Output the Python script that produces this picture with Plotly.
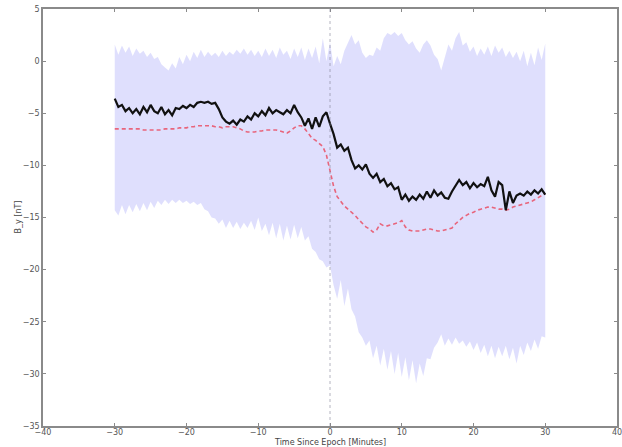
import plotly.graph_objects as go

time_min = [i * 0.5 - 30 for i in range(121)]

by_observed = [
    -3.6, -4.4, -4.2, -4.8, -4.5, -5.0, -4.6, -5.1, -4.4, -4.9,
    -4.2, -4.8, -5.0, -4.4, -5.1, -4.7, -5.2, -4.5, -4.6, -4.3,
    -4.5, -4.2, -4.4, -4.0, -3.9, -4.0, -3.9, -4.1, -4.0, -4.6,
    -5.4, -5.8, -6.0, -5.7, -6.1, -5.6, -5.8, -5.3, -5.6, -5.0,
    -5.3, -4.8, -5.2, -4.5, -5.0, -4.7, -4.9, -5.1, -4.7, -5.0,
    -4.2, -4.9, -5.4, -6.2, -5.5, -6.5, -5.4, -6.3, -5.3, -4.9,
    -6.0, -7.0, -8.3, -8.0, -8.6, -8.3, -9.5, -10.3, -10.0, -10.4,
    -9.9, -10.8, -11.2, -10.8, -11.6, -11.3, -12.0, -11.7, -12.3, -12.1,
    -13.3, -12.8, -13.4, -13.0, -13.3, -12.8, -13.2, -12.5, -13.1, -12.4,
    -12.9, -12.6, -13.1, -13.2, -12.5, -11.9, -11.4, -11.9, -11.6, -12.2,
    -11.7, -12.1, -11.8, -12.0, -11.1, -12.4, -13.0, -11.6, -11.9, -14.3,
    -12.5, -13.6, -12.9, -12.7, -12.9, -12.5, -12.8, -12.4, -12.7, -12.3,
    -12.8,
]

by_model = [
    -6.5, -6.5, -6.5, -6.5, -6.5, -6.5, -6.5, -6.5, -6.6, -6.6,
    -6.6, -6.6, -6.6, -6.6, -6.5, -6.5, -6.5, -6.5, -6.4, -6.4,
    -6.4, -6.3, -6.3, -6.2, -6.2, -6.2, -6.2, -6.2, -6.3, -6.3,
    -6.4, -6.3, -6.3, -6.3, -6.4, -6.5, -6.7, -6.8, -6.8, -6.8,
    -6.7, -6.7, -6.6, -6.6, -6.6, -6.6, -6.7, -6.8, -6.9, -6.7,
    -6.4, -6.2, -6.2, -6.5, -7.0, -7.4, -7.6, -7.9, -8.2, -9.0,
    -10.5, -12.0, -13.0, -13.5, -13.9, -14.2, -14.5, -14.8, -15.2, -15.6,
    -15.9, -16.1, -16.4, -16.2, -15.6, -15.8, -15.8, -15.7, -15.6, -15.5,
    -15.3, -15.9, -16.2, -16.3, -16.3, -16.3, -16.2, -16.1, -16.1, -16.2,
    -16.3, -16.3, -16.2, -16.1, -16.0, -15.6, -15.3, -15.0, -14.8, -14.6,
    -14.5, -14.3, -14.2, -14.1, -14.0, -14.0, -14.1, -14.2, -14.2, -14.3,
    -14.2, -14.0, -13.9, -13.8, -13.7, -13.6, -13.5, -13.3, -13.1, -12.9,
    -12.7,
]

band_upper = [
    1.6, 0.6, 1.5, 0.8, 1.4, 0.5, 1.2, 0.7, 1.0, 0.4,
    0.8, 0.2, 0.4, -0.3, -0.6, -0.9, -0.2, -0.7, 0.4, -0.3,
    0.6, 0.0, 0.9, 0.3, 1.1, 0.4, 0.9, 0.5, 0.8, 0.4,
    1.0, 0.5, 0.9, 0.6, 1.1, 0.7, 1.2, 0.6, 1.1, 0.5,
    1.0, 0.4, 1.2, 0.5, 1.1, 0.3, 1.3, 0.6, 1.0, 0.2,
    1.2, 0.4, 1.3, 0.1, 1.2, 0.3, 1.4, -0.2, 2.2, 0.0,
    1.8, -0.5, 0.5, -0.3, 1.0, 1.8, 2.5, 1.6, 2.0, 0.8,
    0.3, 0.6, 0.5, 1.3, 1.0, 2.2, 2.7, 2.5, 2.8, 2.4,
    2.7, 2.0, 1.6, 1.9, 1.2, 0.8, 1.6, 2.0, 1.5, 0.6,
    0.2, -0.9, 0.5, 1.6, 1.0, 2.2, 2.8, 1.5, 1.8, 0.9,
    1.4, 0.5, 1.2, 0.6, 1.4, 0.5, 1.5, 0.8, 1.3, 0.4,
    1.0, 0.3, 0.9, 0.0, 1.0, -0.5, 0.8, -0.4, 1.3, 0.1,
    1.7,
]

band_lower = [
    -14.3, -14.8, -13.8, -14.7, -13.8, -14.5, -13.7, -14.4, -13.6, -14.3,
    -13.5, -14.1, -13.4, -13.8, -13.3, -13.7, -13.3, -13.6, -13.3, -13.6,
    -13.4, -13.7, -13.5, -13.8, -13.6, -14.2, -14.4, -15.0, -15.1, -15.6,
    -15.2, -16.0, -15.3, -16.0, -15.4, -16.1, -15.5, -16.0, -15.3, -16.2,
    -15.0, -16.3, -15.6, -16.7, -15.5, -17.0, -15.6, -17.2, -15.8, -17.1,
    -15.7, -17.0, -15.9, -17.2, -16.8, -18.0, -18.3, -19.0, -19.2, -19.8,
    -19.6, -21.5, -22.8, -21.0, -23.5, -21.8, -23.8, -24.5, -26.0, -26.5,
    -27.3, -26.8, -28.5, -27.3, -29.2, -27.6, -29.6, -27.8, -30.0, -28.0,
    -30.3, -28.4, -30.6, -28.7, -30.9, -29.0, -30.2, -28.5, -28.6, -27.5,
    -27.0, -26.2, -27.3, -26.6, -27.2, -26.5, -27.1, -26.8, -27.4, -26.9,
    -27.7, -27.0, -28.0, -27.2, -28.3, -27.3, -28.5, -27.4, -28.3, -27.3,
    -28.6, -27.5, -29.0, -27.3, -28.2, -27.0, -27.8, -26.7, -27.6, -26.4,
    -26.5,
]

x_ticks = [-40, -30, -20, -10, 0, 10, 20, 30, 40]
y_ticks = [5, 0, -5, -10, -15, -20, -25, -30, -35]

fig = go.Figure()
fig.add_trace(go.Scatter(x=time_min, y=band_lower, mode="lines",
                         line=dict(width=0, color="rgba(0,0,0,0)"),
                         showlegend=False, hoverinfo="skip"))
fig.add_trace(go.Scatter(x=time_min, y=band_upper, mode="lines",
                         line=dict(width=0, color="rgba(0,0,0,0)"),
                         fill="tonexty", fillcolor="rgba(210,210,252,0.72)",
                         showlegend=False, hoverinfo="skip"))
fig.add_vline(x=0, line=dict(color="rgba(130,130,150,0.6)", width=1, dash="dot"))
fig.add_trace(go.Scatter(x=time_min, y=by_model, mode="lines",
                         line=dict(color="rgba(235,60,80,0.75)", width=1.6, dash="4px,3px"),
                         showlegend=False))
fig.add_trace(go.Scatter(x=time_min, y=by_observed, mode="lines",
                         line=dict(color="#111111", width=2.2),
                         showlegend=False))

axis_common = dict(
    showgrid=False, zeroline=False, showline=True, linecolor="#8a8a8a",
    linewidth=1.5, mirror="ticks", ticks="inside", ticklen=3,
    tickcolor="#8a8a8a", automargin=False, ticklabeloverflow="allow",
    tickfont=dict(family="DejaVu Sans", size=8, color="#555555"),
)
fig.update_xaxes(range=[-40, 40], tickvals=x_ticks, ticklabelstandoff=-2, **axis_common)
fig.update_yaxes(range=[-35, 5], tickvals=y_ticks, **axis_common)
fig.add_annotation(text="Time Since Epoch [Minutes]", xref="paper", yref="paper",
                   x=0.5, y=0, yanchor="top", yshift=-10, showarrow=False,
                   font=dict(family="DejaVu Sans", size=8, color="#444444"))
fig.add_annotation(text="B_y [nT]", xref="paper", yref="paper", textangle=-90,
                   x=0, y=0.5, xanchor="center", xshift=-25, showarrow=False,
                   font=dict(family="DejaVu Sans", size=8, color="#444444"))
fig.update_layout(
    width=622, height=447,
    margin=dict(l=43, r=5, t=9, b=21),
    plot_bgcolor="white", paper_bgcolor="white",
)
fig.write_html(
    "out.html",
    config={"displayModeBar": False},
    post_script="document.body.style.margin='0';document.body.style.overflow='hidden';",
)
